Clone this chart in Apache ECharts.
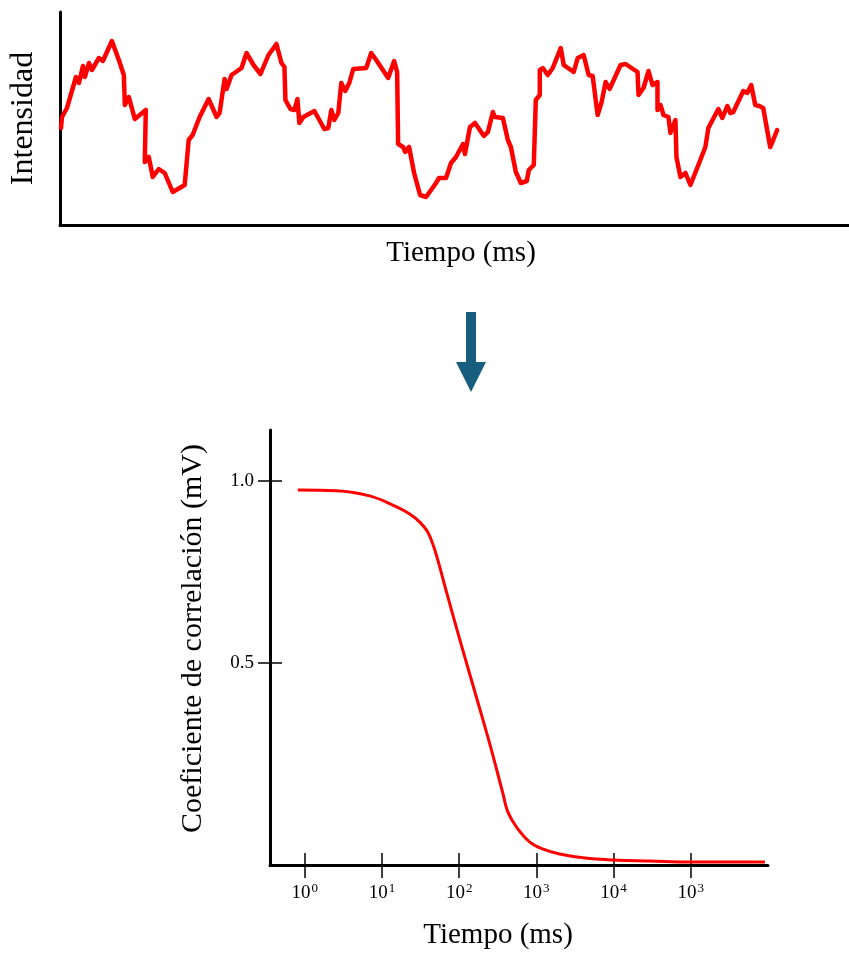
<!DOCTYPE html>
<html>
<head>
<meta charset="utf-8">
<script src="https://cdn.jsdelivr.net/npm/echarts@6/dist/echarts.min.js"></script>
<style>
html,body{margin:0;padding:0;background:#fff;}
#chart{width:849px;height:953px;}
</style>
</head>
<body>
<div id="chart"></div>
<script>
// ---- Top panel: intensity trace (time in arbitrary units, intensity arbitrary) ----
const traceTime = [59,60,65,74,77,81,83,87,90,97,101,110,117,122,123,127,133,144,143,147,151,157,163,171,183,187,191,198,207,215,218,223,225,230,240,245,252,259,267,275,280,283,284,289,293,296,298,302,313,323,327,330,333,337,340,344,348,352,354,365,370,375,387,393,396,397,402,404,408,413,419,425,435,438,445,450,455,462,464,469,474,483,487,492,494,502,507,510,515,520,526,528,533,535,539,539,542,547,552,560,563,573,577,583,588,592,597,601,605,609,620,625,637,638,643,648,652,657,657,660,663,668,670,675,676,680,685,690,698,705,708,718,722,727,730,733,743,747,751,755,759,763,770,773,777];
const traceIntensity = [97,108,117,148,142,159,148,162,155,167,164,184,165,150,120,128,106,115,63,68,48,56,52,33,40,85,90,108,126,108,112,146,136,150,157,172,160,151,170,181,162,158,125,116,115,126,102,108,114,96,97,115,105,112,142,134,142,156,154,157,172,165,147,164,153,81,78,73,78,52,30,28,42,47,47,62,68,81,71,98,102,89,93,113,108,107,85,78,53,42,44,55,60,125,130,155,157,150,157,177,160,153,167,170,150,149,110,123,143,136,160,161,153,130,137,154,140,143,115,120,110,108,92,105,68,48,52,40,60,78,97,116,107,119,112,113,134,132,140,120,119,117,78,85,95];

// ---- Bottom panel: correlation curve (x = log10 of time in ms) ----
const corrLogTime = [-0.09,0.41,0.84,1.19,1.36,1.49,1.593,1.671,1.723,1.84,2.01,2.23,2.40,2.565,2.63,2.75,2.915,3.08,3.30,3.63,4.00,4.47,5.00,5.96];
const corrValue   = [0.975,0.973,0.959,0.929,0.909,0.887,0.860,0.819,0.783,0.692,0.563,0.401,0.275,0.143,0.091,0.047,0.008,-0.011,-0.025,-0.036,-0.041,-0.044,-0.047,-0.047];

// ---- Tick labels ----
const xTickPos = [0,1,2,3,4,5];
const xTickBase = ['10','10','10','10','10','10'];
const xTickExp = ['0','1','2','3','4','3'];
const yTickPos = [0.5,1.0];
const yTickLabels = ['0.5','1.0'];

const FONT = 'Liberation Serif';
const tracePts = traceTime.map((t,i)=>[t, traceIntensity[i]]);
const corrPts = corrLogTime.map((t,i)=>[t, corrValue[i]]);

const chart = echarts.init(document.getElementById('chart'), null, {renderer:'canvas'});
const axisLine = {show:true, onZero:false, lineStyle:{color:'#000', width:3}};
const option = {
  animation:false,
  backgroundColor:'#fff',
  grid:[
    {left:58, top:12, right:0, bottom:728},
    {left:270, top:430, right:81, bottom:88}
  ],
  xAxis:[
    {gridIndex:0, type:'value', min:58, max:849, position:'bottom',
     axisLine:axisLine, axisTick:{show:false}, axisLabel:{show:false}, splitLine:{show:false},
     name:'Tiempo (ms)', nameLocation:'middle', nameGap:14,
     nameTextStyle:{fontFamily:FONT, fontSize:29, color:'#000', padding:[0,0,0,13]}},
    {gridIndex:1, type:'value', min:-0.45, max:6.0, position:'bottom',
     axisLine:axisLine,
     axisTick:{show:true, customValues:xTickPos, length:13, lineStyle:{color:'#000', width:1.5}},
     axisLabel:{show:true, customValues:xTickPos, margin:17,
       formatter:function(v){const i=xTickPos.indexOf(Math.round(v)); return '{b|'+xTickBase[i]+'}{s|'+xTickExp[i]+'}';},
       rich:{b:{fontFamily:FONT, fontSize:19, color:'#000', lineHeight:22},
             s:{fontFamily:FONT, fontSize:13, color:'#000', verticalAlign:'top', lineHeight:22, padding:[0,0,6,1]}}},
     splitLine:{show:false},
     name:'Tiempo (ms)', nameLocation:'middle', nameGap:56,
     nameTextStyle:{fontFamily:FONT, fontSize:29, color:'#000', padding:[0,42,0,0]}},
    {gridIndex:1, type:'value', min:-0.45, max:6.0, position:'bottom',
     axisLine:{show:false, onZero:false},
     axisTick:{show:true, inside:true, customValues:xTickPos, length:12, lineStyle:{color:'#000', width:1.5}},
     axisLabel:{show:false}, splitLine:{show:false}}
  ],
  yAxis:[
    {gridIndex:0, type:'value', min:0, max:213, position:'left',
     axisLine:axisLine, axisTick:{show:false}, axisLabel:{show:false}, splitLine:{show:false},
     name:'Intensidad', nameLocation:'middle', nameRotate:90, nameGap:20,
     nameTextStyle:{fontFamily:FONT, fontSize:32, color:'#000'}},
    {gridIndex:1, type:'value', min:-0.055, max:1.14, position:'left',
     axisLine:axisLine,
     axisTick:{show:true, customValues:yTickPos, length:12, lineStyle:{color:'#000', width:1.5}},
     axisLabel:{show:true, customValues:yTickPos, margin:16,
       formatter:function(v){const i=yTickPos.findIndex(p=>Math.abs(p-v)<1e-6); return yTickLabels[i];},
       fontFamily:FONT, fontSize:19, color:'#000'},
     splitLine:{show:false},
     name:'Coeficiente de correlación (mV)', nameLocation:'middle', nameRotate:90, nameGap:62,
     nameTextStyle:{fontFamily:FONT, fontSize:30, color:'#000', padding:[0,0,0,18]}},
    {gridIndex:1, type:'value', min:-0.055, max:1.14, position:'left',
     axisLine:{show:false, onZero:false},
     axisTick:{show:true, inside:true, customValues:yTickPos, length:12, lineStyle:{color:'#000', width:1.5}},
     axisLabel:{show:false}, splitLine:{show:false}}
  ],
  series:[
    {type:'line', xAxisIndex:0, yAxisIndex:0, data:tracePts, showSymbol:false, smooth:false,
     lineStyle:{color:'#ff0000', width:4.5, join:'round', cap:'round'}, z:5},
    {type:'line', xAxisIndex:1, yAxisIndex:1, data:corrPts, showSymbol:false, smooth:0.4,
     lineStyle:{color:'#ff0000', width:3, join:'round'}, z:5}
  ],
  graphic:[
    {type:'rect', shape:{x:466, y:312, width:10, height:51}, style:{fill:'#175d7e'}},
    {type:'polygon', shape:{points:[[456,362],[486,362],[471,392]]}, style:{fill:'#175d7e'}}
  ]
};
chart.setOption(option);
</script>
</body>
</html>
